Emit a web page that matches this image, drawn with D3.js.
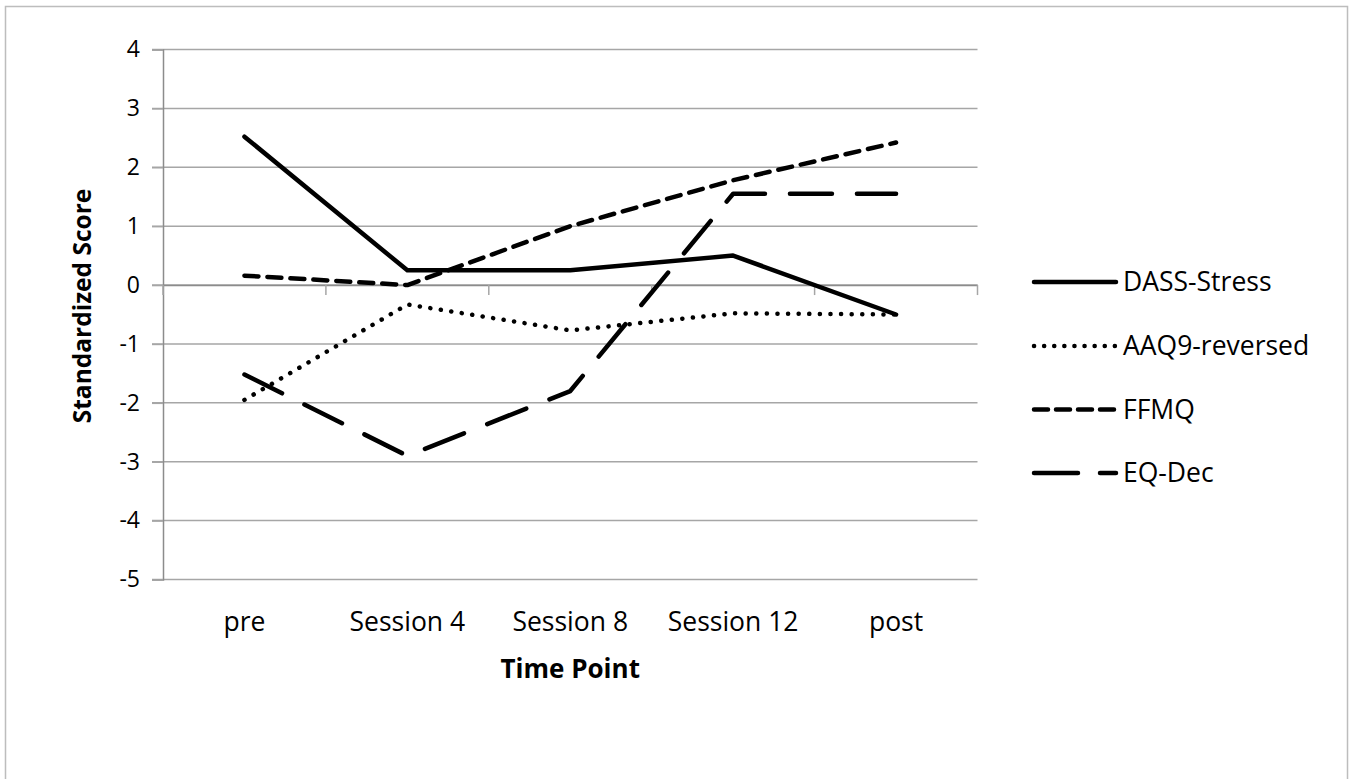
<!DOCTYPE html>
<html><head><meta charset="utf-8">
<script src="https://cdn.jsdelivr.net/npm/d3@7"></script>
<style>body{margin:0;background:#fff}svg{display:block}text{font-family:"Open Sans",sans-serif}</style>
</head><body>
<svg id="c" width="1355" height="779"></svg>
<script>
const categories = ["pre","Session 4","Session 8","Session 12","post"];
const dassStress = [2.52, 0.25, 0.25, 0.50, -0.50];
const aaq9Reversed = [-1.95, -0.33, -0.77, -0.48, -0.50];
const ffmq = [0.16, 0.00, 1.00, 1.78, 2.42];
const eqDec = [-1.52, -2.90, -1.80, 1.55, 1.55];
const seriesNames = ["DASS-Stress","AAQ9-reversed","FFMQ","EQ-Dec"];
const yTicks = [4,3,2,1,0,-1,-2,-3,-4,-5];

const series = [
  {name: seriesNames[0], values: dassStress, dash: null, ldash: null},
  {name: seriesNames[1], values: aaq9Reversed, dash: "0.1,10.5", ldash: "0.1,10"},
  {name: seriesNames[2], values: ffmq, dash: "14,9", ldash: "14,8"},
  {name: seriesNames[3], values: eqDec, dash: "42,25", ldash: "44,22"}
];

const svg = d3.select("#c");
svg.append("rect").attr("x",5.5).attr("y",6.5).attr("width",1342).attr("height",780)
  .attr("fill","#fff").attr("stroke","#bdbdbd").attr("stroke-width",1.5);

const L = 163, R = 977.5, T = 49.5, B = 579.5;
const x = d3.scaleBand().domain(categories).range([L,R]);
const y = d3.scaleLinear().domain([-5,4]).range([B,T]);

// gridlines
svg.append("g").selectAll("line").data(yTicks).join("line")
  .attr("x1",L-11).attr("x2",R).attr("y1",d=>y(d)).attr("y2",d=>y(d))
  .attr("stroke","#a6a6a6").attr("stroke-width",1.5);

// y axis
const yAxis = svg.append("g").attr("transform",`translate(${L},0)`)
  .call(d3.axisLeft(y).tickValues(yTicks).tickSize(11).tickPadding(12).tickFormat(d=>String(d)));
yAxis.select(".domain").attr("stroke","#8c8c8c").attr("stroke-width",1.5);
yAxis.selectAll(".tick line").attr("stroke","#a6a6a6").attr("stroke-width",1.5);
yAxis.selectAll("text").attr("font-size",23).attr("fill","#000").attr("font-family","'Open Sans',sans-serif");

// x axis at zero
const xAxis = svg.append("g").attr("transform",`translate(0,${y(0)})`)
  .call(d3.axisBottom(x).tickSize(0).tickFormat(""));
xAxis.select(".domain").attr("stroke","#8c8c8c").attr("stroke-width",1.5);
const bounds = categories.map(c=>x(c)+x.bandwidth()).concat([x(categories[0])]);
xAxis.selectAll(".bnd").data(bounds).join("line").attr("class","bnd")
  .attr("x1",d=>d).attr("x2",d=>d).attr("y1",0).attr("y2",10)
  .attr("stroke","#a6a6a6").attr("stroke-width",1.5);

// x labels at bottom
svg.append("g").selectAll("text").data(categories).join("text")
  .attr("x",d=>x(d)+x.bandwidth()/2).attr("y",631).attr("text-anchor","middle")
  .attr("font-size",26.5).attr("fill","#000").text(d=>d);

// axis titles
svg.append("text").attr("x",L+(R-L)/2).attr("y",678).attr("text-anchor","middle")
  .attr("font-size",26).attr("font-weight","bold").text("Time Point");
svg.append("text").attr("transform",`translate(91,306) rotate(-90)`).attr("text-anchor","middle")
  .attr("font-size",24.5).attr("font-weight","bold").text("Standardized Score");

// lines
const line = d3.line().x((d,i)=>x(categories[i])+x.bandwidth()/2).y(d=>y(d));
series.forEach(s=>{
  svg.append("path").datum(s.values).attr("d",line).attr("fill","none")
    .attr("stroke","#000").attr("stroke-width",4.5)
    .attr("stroke-dasharray",s.dash).attr("stroke-linecap","round").attr("stroke-linejoin","round");
});

// legend
const lg = svg.append("g");
const legY = [282, 346, 409.5, 473];
series.forEach((s,i)=>{
  lg.append("line").attr("x1",1034).attr("x2",1116).attr("y1",legY[i]).attr("y2",legY[i])
    .attr("stroke","#000").attr("stroke-width",4.5).attr("stroke-linecap","round")
    .attr("stroke-dasharray", s.ldash);
  lg.append("text").attr("x",1123).attr("y",legY[i]+9).attr("font-size",26.5).text(s.name);
});
</script>
</body></html>
